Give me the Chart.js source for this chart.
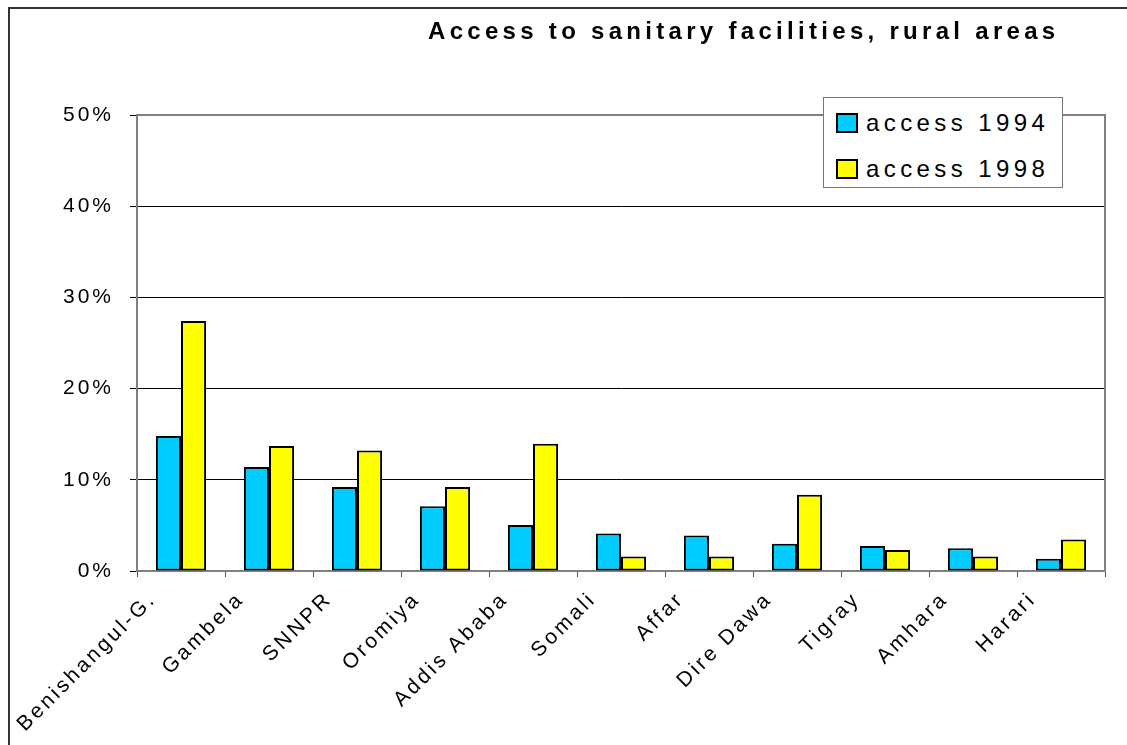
<!DOCTYPE html>
<html>
<head>
<meta charset="utf-8">
<script src="https://cdn.jsdelivr.net/npm/chart.js@4/dist/chart.umd.min.js"></script>
<style>
body{margin:0;background:#fff;overflow:hidden;font-family:"Liberation Sans",Arial,sans-serif}
#wrap{position:relative;width:1127px;height:745px}
#marco{position:absolute;left:8px;top:7px;width:1200px;height:800px;border-left:2px solid #333;border-top:2px solid #333}
#titulo{position:absolute;left:428px;top:17px;font-weight:bold;font-size:24px;letter-spacing:4.3px;white-space:nowrap;color:#000}
#leyenda{position:absolute;left:823px;top:97px;width:238px;height:89px;border:1px solid #777;background:#fff}
.item{position:absolute;left:12px;height:28px;display:flex;align-items:center;font-size:24px;letter-spacing:4.4px;white-space:nowrap}
.cuadro{width:18px;height:16px;border:2px solid #000;margin-right:8px}
canvas{position:absolute;left:0;top:0}
</style>
</head>
<body>
<div id="wrap">
  <div id="marco"></div>
  <canvas id="grafica" width="1127" height="745"></canvas>
  <div id="titulo">Access to sanitary facilities, rural areas</div>
  <div id="leyenda"></div>
</div>
<script>
//DATOS
const regiones = ["Benishangul-G.", "Gambela", "SNNPR", "Oromiya", "Addis Ababa", "Somali", "Affar", "Dire Dawa", "Tigray", "Amhara", "Harari"];
const acceso1994 = [14.8, 11.4, 9.2, 7.1, 5.05, 4.1, 3.9, 3.0, 2.75, 2.5, 1.35];
const acceso1998 = [27.4, 13.7, 13.2, 9.2, 13.95, 1.6, 1.6, 8.35, 2.3, 1.6, 3.45];
const etiquetas = ["access 1994", "access 1998"];
const colores = ["#00CCFF", "#FFFF00"];

Chart.defaults.font.family = "'Liberation Sans', Arial, sans-serif";
Chart.defaults.color = "#000";

// espaciado de letras en el canvas
const espaciado = {
  id: 'espaciado',
  beforeUpdate(c){ c.ctx.letterSpacing = '3px'; },
  beforeDraw(c){ c.ctx.letterSpacing = '3px'; }
};

// borde gris arriba y a la derecha del area
const bordeArea = {
  id: 'bordeArea',
  beforeDatasetsDraw(c){
    const a = c.chartArea, ctx = c.ctx;
    ctx.save();
    ctx.strokeStyle = '#808080';
    ctx.lineWidth = 2;
    ctx.beginPath();
    ctx.moveTo(a.left, a.top);
    ctx.lineTo(a.right, a.top);
    ctx.lineTo(a.right, a.bottom);
    ctx.stroke();
    ctx.restore();
  }
};

const micanvas = document.getElementById('grafica').getContext('2d');
const grafica = new Chart(micanvas, {
  type: 'bar',
  data: {
    labels: regiones,
    datasets: [
      {label: etiquetas[0], data: acceso1994, backgroundColor: colores[0], borderColor: '#000', borderWidth: 2, borderSkipped: false},
      {label: etiquetas[1], data: acceso1998, backgroundColor: colores[1], borderColor: '#000', borderWidth: 2, borderSkipped: false}
    ]
  },
  options: {
    responsive: false,
    animation: false,
    categoryPercentage: 0.57,
    barPercentage: 1.0,
    layout: {padding: {top: 115, right: 22, left: 0, bottom: 0}},
    plugins: {legend: {display: false}, title: {display: false}, tooltip: {enabled: false}},
    scales: {
      x: {
        afterFit(s){ s.height = 174; },
        grid: {offset: true, drawOnChartArea: false, tickLength: 6, tickColor: '#555', lineWidth: 1},
        border: {color: '#808080', width: 2},
        ticks: {font: {size: 21}, minRotation: 45, maxRotation: 45, labelOffset: -28, padding: 10, autoSkip: false}
      },
      y: {
        min: 0, max: 50,
        afterFit(s){ s.width = 137; },
        grid: {
          color: c => (c.tick && (c.tick.value === 0 || c.tick.value === 50)) ? 'rgba(0,0,0,0)' : '#000',
          lineWidth: 1, tickLength: 7, tickColor: '#000'
        },
        border: {color: '#808080', width: 2},
        ticks: {stepSize: 10, font: {size: 21}, padding: 16, callback: v => v + '%'}
      }
    }
  },
  plugins: [espaciado, bordeArea]
});

// LEYENDA
const leyenda = document.getElementById('leyenda');
grafica.data.datasets.forEach((d, i) => {
  const item = document.createElement('div');
  item.className = 'item';
  item.style.top = (11 + i * 46) + 'px';
  const cuadro = document.createElement('div');
  cuadro.className = 'cuadro';
  cuadro.style.background = d.backgroundColor;
  item.appendChild(cuadro);
  item.appendChild(document.createTextNode(d.label));
  leyenda.appendChild(item);
});
</script>
</body>
</html>
